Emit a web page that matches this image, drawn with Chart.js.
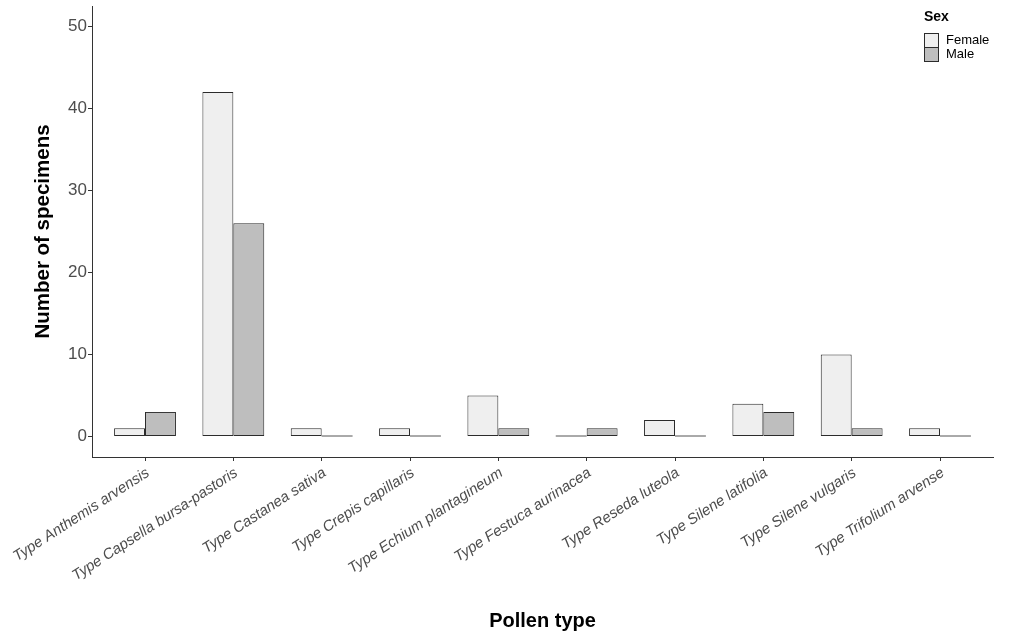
<!DOCTYPE html>
<html>
<head>
<meta charset="utf-8">
<script src="https://cdn.jsdelivr.net/npm/chart.js@4.4.1/dist/chart.umd.min.js"></script>
<style>
  html, body { margin: 0; padding: 0; background: #ffffff; }
  #wrap { width: 1009px; height: 634px; position: relative; }
</style>
</head>
<body>
<div id="wrap"><canvas id="c" width="1009" height="634"></canvas></div>
<script>
const categories = [
  "Type Anthemis arvensis",
  "Type Capsella bursa-pastoris",
  "Type Castanea sativa",
  "Type Crepis capillaris",
  "Type Echium plantagineum",
  "Type Festuca aurinacea",
  "Type Reseda luteola",
  "Type Silene latifolia",
  "Type Silene vulgaris",
  "Type Trifolium arvense"
];
const femaleValues = [1, 42, 1, 1, 5, 0, 2, 4, 10, 1];
const maleValues   = [3, 26, 0, 0, 1, 1, 0, 3, 1, 0];
const yTicks = [0, 10, 20, 30, 40, 50];
const seriesNames = ["Female", "Male"];
const legendTitle = "Sex";
const xTitle = "Pollen type";
const yTitle = "Number of specimens";

const FONT = "'Liberation Sans', Arial, Helvetica, sans-serif";
const femaleColor = "#EFEFEF";
const maleColor = "#BEBEBE";
const outline = "#2B2B2B";

const toPoints = vals => vals.map((v, i) => ({ x: i + 1, y: v }));

// Draw outlines for zero-height bars (as ggplot does)
const zeroBarPlugin = {
  id: "zeroBars",
  afterDatasetsDraw(chart) {
    const ctx = chart.ctx;
    const yScale = chart.scales.y;
    const y0 = yScale.getPixelForValue(0) - 0.5;
    ctx.save();
    ctx.strokeStyle = "#555555";
    ctx.lineWidth = 1;
    chart.data.datasets.forEach((ds, di) => {
      const meta = chart.getDatasetMeta(di);
      meta.data.forEach((bar, i) => {
        if (ds.data[i].y === 0) {
          const w = bar.width;
          ctx.beginPath();
          ctx.moveTo(bar.x - w / 2, y0);
          ctx.lineTo(bar.x + w / 2, y0);
          ctx.stroke();
        }
      });
    });
    ctx.restore();
  }
};

const legendPlugin = {
  id: "customLegend",
  afterDraw(chart) {
    const ctx = chart.ctx;
    ctx.save();
    ctx.fillStyle = "#000000";
    ctx.font = "bold 14px " + FONT;
    ctx.textAlign = "left";
    ctx.textBaseline = "middle";
    ctx.fillText(legendTitle, 924, 17);
    chart.data.datasets.forEach((ds, i) => {
      const y = 33 + i * 14;
      ctx.fillStyle = ds.backgroundColor;
      ctx.fillRect(924.5, y + 0.5, 14, 14);
      ctx.strokeStyle = outline;
      ctx.lineWidth = 1;
      ctx.strokeRect(924.5, y + 0.5, 14, 14);
      ctx.fillStyle = "#000000";
      ctx.font = "13px " + FONT;
      ctx.fillText(ds.label, 946, y + 7.5);
    });
    ctx.restore();
  }
};

new Chart(document.getElementById("c"), {
  type: "bar",
  data: {
    datasets: [
      {
        label: seriesNames[0],
        data: toPoints(femaleValues),
        backgroundColor: femaleColor,
        borderColor: outline,
        borderWidth: 1,
        borderSkipped: false
      },
      {
        label: seriesNames[1],
        data: toPoints(maleValues),
        backgroundColor: maleColor,
        borderColor: outline,
        borderWidth: 1,
        borderSkipped: false
      }
    ]
  },
  options: {
    responsive: false,
    animation: false,
    devicePixelRatio: 1,
    categoryPercentage: 0.7,
    barPercentage: 1.0,
    layout: { padding: { top: 6, right: 16, left: 0, bottom: 0 } },
    plugins: {
      legend: { display: false },
      tooltip: { enabled: false }
    },
    scales: {
      x: {
        type: "linear",
        min: 0.4,
        max: 10.6,
        offset: false,
        afterBuildTicks(scale) {
          scale.ticks = categories.map((_, i) => ({ value: i + 1 }));
        },
        afterFit(scale) {
          scale.height = 177;
          scale.paddingLeft = 0;
          scale.paddingRight = 0;
        },
        ticks: {
          autoSkip: false,
          minRotation: 33,
          maxRotation: 33,
          padding: 3,
          labelOffset: 3,
          color: "#4D4D4D",
          font: { family: FONT, size: 15, style: "italic" },
          callback: (v) => categories[Math.round(v) - 1]
        },
        grid: {
          display: true,
          offset: false,
          drawOnChartArea: false,
          drawTicks: true,
          tickLength: 4,
          color: "#333333",
          lineWidth: 1
        },
        border: { display: true, color: "#333333", width: 1 },
        title: {
          display: true,
          text: xTitle,
          color: "#000000",
          font: { family: FONT, size: 20, weight: "bold" },
          padding: { top: 0, bottom: 1 }
        }
      },
      y: {
        type: "linear",
        min: -2.5,
        max: 52.5,
        afterBuildTicks(scale) {
          scale.ticks = yTicks.map(v => ({ value: v }));
        },
        afterFit(scale) {
          scale.width = 92;
          scale.paddingTop = 0;
          scale.paddingBottom = 0;
        },
        ticks: {
          padding: 1,
          color: "#4D4D4D",
          font: { family: FONT, size: 17 }
        },
        grid: {
          display: true,
          drawOnChartArea: false,
          drawTicks: true,
          tickLength: 4,
          color: "#333333",
          lineWidth: 1
        },
        border: { display: true, color: "#333333", width: 1 },
        title: {
          display: true,
          text: yTitle,
          color: "#000000",
          font: { family: FONT, size: 20.5, weight: "bold" },
          padding: { top: 31, bottom: 0 }
        }
      }
    }
  },
  plugins: [zeroBarPlugin, legendPlugin]
});
</script>
</body>
</html>
